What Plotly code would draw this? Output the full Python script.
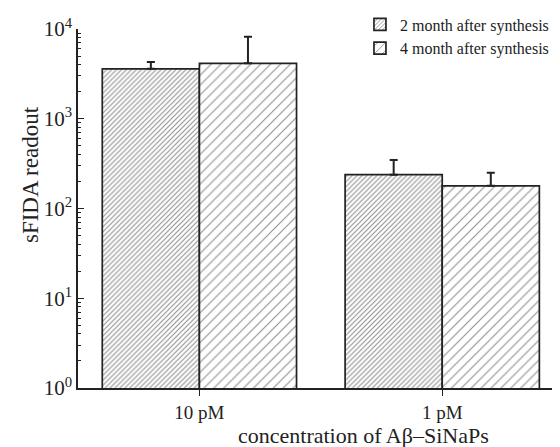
import plotly.graph_objects as go

categories = ["10 pM", "1 pM"]
series_names = ["2 month after synthesis", "4 month after synthesis"]
values_2m = [3600, 238]
errors_2m = [700, 110]
values_4m = [4150, 179]
errors_4m = [4050, 72]
ytick_vals = [1, 10, 100, 1000, 10000]
ytick_text = ["10<sup>0</sup>", "10<sup>1</sup>", "10<sup>2</sup>", "10<sup>3</sup>", "10<sup>4</sup>"]
x_title = "concentration of Aβ–SiNaPs"
y_title = "sFIDA readout"

FONT = "Liberation Serif, Times New Roman, serif"

fig = go.Figure()
fig.add_trace(go.Bar(
    name=series_names[0], x=categories, y=values_2m,
    error_y=dict(type="data", array=errors_2m, arrayminus=[0, 0], symmetric=False,
                 color="#222", thickness=2, width=4),
    marker=dict(color="white", line=dict(color="#222", width=1.7),
                pattern=dict(shape="/", size=3.5, solidity=0.32, fgcolor="#222", bgcolor="white")),
))
fig.add_trace(go.Bar(
    name=series_names[1], x=categories, y=values_4m,
    error_y=dict(type="data", array=errors_4m, arrayminus=[0, 0], symmetric=False,
                 color="#222", thickness=2, width=4),
    marker=dict(color="white", line=dict(color="#222", width=1.7),
                pattern=dict(shape="/", size=7, solidity=0.16, fgcolor="#222", bgcolor="white")),
))

# page body has a default 8px margin, so the figure is sized/placed to compensate
fig.update_layout(
    width=552, height=439,
    margin=dict(l=70, r=0, t=21, b=59, autoexpand=False),
    paper_bgcolor="white", plot_bgcolor="white",
    barmode="group", bargap=0.2, bargroupgap=0,
    font=dict(family=FONT, color="#222", size=18),
    showlegend=True,
    legend=dict(x=0.585, y=1.06, xanchor="left", yanchor="top",
                font=dict(family=FONT, size=16, color="#222"),
                bgcolor="rgba(0,0,0,0)", tracegroupgap=0, itemwidth=30),
    xaxis=dict(range=[-0.5, 1.485], showline=True, linecolor="#222", linewidth=1.5,
               ticks="outside", ticklen=6, tickcolor="#222", tickwidth=1.2,
               showgrid=False, zeroline=False, automargin=False,
               tickfont=dict(family=FONT, size=19)),
    yaxis=dict(type="log", range=[0, 4], showline=True, linecolor="#222", linewidth=1.5,
               ticks="inside", ticklen=6, tickcolor="#222", tickwidth=1.2,
               tickvals=ytick_vals, ticktext=ytick_text,
               minor=dict(ticks="inside", ticklen=3, tickcolor="#222", tickwidth=1, dtick="D1", showgrid=False),
               showgrid=False, zeroline=False, automargin=False,
               tickfont=dict(family=FONT, size=21)),
    annotations=[
        dict(text=x_title, xref="paper", yref="paper", x=0.593, y=-0.131,
             xanchor="center", yanchor="middle", showarrow=False,
             font=dict(family=FONT, size=22, color="#222")),
        dict(text=y_title, xref="paper", yref="paper", x=-0.0996, y=0.596,
             xanchor="center", yanchor="middle", showarrow=False, textangle=-90,
             font=dict(family=FONT, size=23, color="#222")),
    ],
)

fig.write_html("out.html")
